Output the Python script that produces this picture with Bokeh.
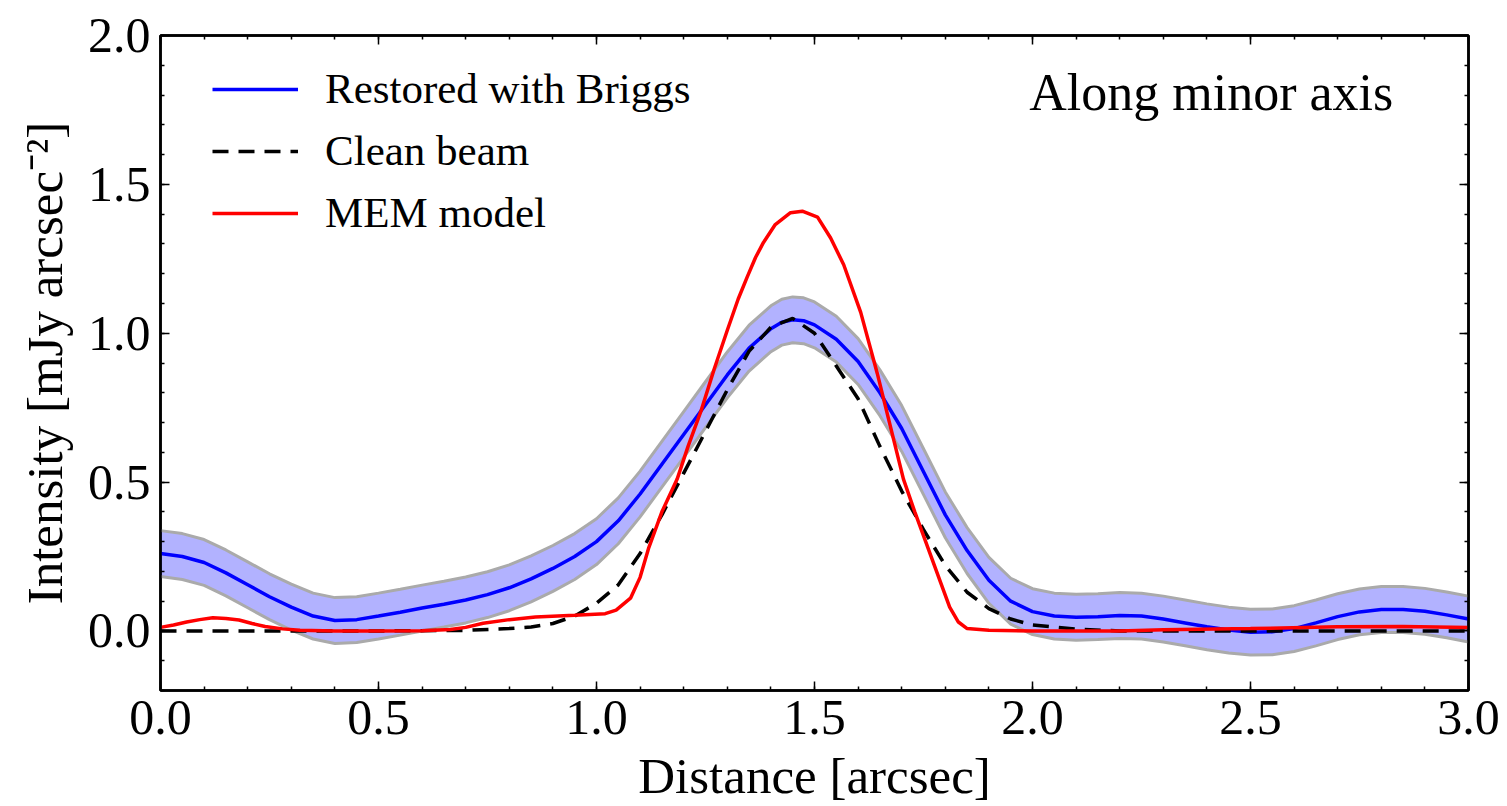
from bokeh.plotting import figure
from bokeh.models import (LinearAxis, FixedTicker, Legend, LegendItem, Label,
                          ColumnDataSource, Range1d)
from bokeh.embed import file_html
from bokeh.resources import INLINE

# ---------------- data ----------------
briggs_x = [0.0, 0.05, 0.1, 0.15, 0.2, 0.25, 0.3, 0.35, 0.4, 0.45, 0.5, 0.55, 0.6, 0.65,
            0.7, 0.75, 0.8, 0.85, 0.9, 0.95, 1.0, 1.05, 1.1, 1.15, 1.2, 1.25, 1.3, 1.35,
            1.4, 1.425, 1.45, 1.475, 1.5, 1.55, 1.6, 1.65, 1.7, 1.75, 1.8, 1.85, 1.9, 1.95,
            2.0, 2.05, 2.1, 2.15, 2.2, 2.25, 2.3, 2.35, 2.4, 2.45, 2.5, 2.55, 2.6, 2.65,
            2.7, 2.75, 2.8, 2.85, 2.9, 2.95, 3.0]
briggs_y = [0.26, 0.25, 0.23, 0.195, 0.155, 0.115, 0.08, 0.05, 0.035, 0.038, 0.05, 0.063,
            0.077, 0.09, 0.104, 0.122, 0.145, 0.175, 0.21, 0.25, 0.30, 0.37, 0.46, 0.56,
            0.66, 0.76, 0.86, 0.95, 1.015, 1.037, 1.045, 1.042, 1.028, 0.98, 0.905, 0.80,
            0.68, 0.535, 0.39, 0.27, 0.17, 0.10, 0.065, 0.05, 0.046, 0.048, 0.052, 0.05,
            0.04, 0.027, 0.014, 0.003, -0.004, -0.003, 0.008, 0.027, 0.048, 0.064, 0.072,
            0.072, 0.066, 0.054, 0.04]
briggs_rms = 0.077

beam_x = [0.0, 0.5, 0.7, 0.8, 0.85, 0.9, 0.95, 1.0, 1.05, 1.1, 1.15, 1.2, 1.25, 1.3, 1.35,
          1.4, 1.45, 1.5, 1.55, 1.6, 1.65, 1.7, 1.75, 1.8, 1.85, 1.9, 1.95, 2.0, 2.1, 2.2, 3.0]
beam_y = [0.0, 0.0, 0.002, 0.008, 0.013, 0.025, 0.05, 0.093, 0.155, 0.26, 0.39, 0.53, 0.67,
          0.81, 0.94, 1.02, 1.05, 1.0, 0.89, 0.78, 0.62, 0.47, 0.34, 0.22, 0.13, 0.075, 0.04,
          0.02, 0.006, 0.0, 0.0]

mem_x = [0.0, 0.03, 0.06, 0.09, 0.12, 0.15, 0.18, 0.21, 0.24, 0.28, 0.32, 0.4, 0.5, 0.6,
         0.665, 0.7, 0.74, 0.8, 0.86, 0.95, 1.02, 1.045, 1.078, 1.1, 1.12, 1.15, 1.185, 1.21,
         1.24, 1.27, 1.3, 1.325, 1.346, 1.365, 1.383, 1.41, 1.445, 1.472, 1.507, 1.537,
         1.567, 1.606, 1.644, 1.682, 1.704, 1.73, 1.76, 1.79, 1.81, 1.83, 1.85, 1.9, 2.0,
         2.2, 2.3, 2.5, 2.7, 2.85, 3.0]
mem_y = [0.012, 0.02, 0.03, 0.038, 0.044, 0.042, 0.037, 0.025, 0.015, 0.007, 0.002, 0.0,
         0.0, 0.001, 0.005, 0.012, 0.026, 0.038, 0.047, 0.053, 0.058, 0.07, 0.11, 0.18, 0.28,
         0.40, 0.51, 0.62, 0.74, 0.88, 1.01, 1.115, 1.19, 1.255, 1.305, 1.365, 1.405, 1.41,
         1.39, 1.32, 1.23, 1.07, 0.865, 0.64, 0.51, 0.40, 0.28, 0.16, 0.08, 0.03, 0.008,
         0.002, 0.0, 0.0, 0.004, 0.008, 0.014, 0.015, 0.012]

x_major = [0.0, 0.5, 1.0, 1.5, 2.0, 2.5, 3.0]
y_major = [0.0, 0.5, 1.0, 1.5, 2.0]
x_minor = [i / 10 for i in range(0, 31)]
y_minor = [i / 10 for i in range(-2, 21)]
x_labels = ["0.0", "0.5", "1.0", "1.5", "2.0", "2.5", "3.0"]
y_labels = ["0.0", "0.5", "1.0", "1.5", "2.0"]

# ---------------- figure ----------------
FONT = "Liberation Serif"
p = figure(width=1507, height=806, x_range=Range1d(0, 3), y_range=Range1d(-0.2, 2.0),
           output_backend="svg", toolbar_location=None,
           min_border_left=160, min_border_right=39, min_border_top=35,
           min_border_bottom=116)
p.grid.visible = False
p.outline_line_color = "black"
p.outline_line_width = 2.5
p.background_fill_color = "white"
p.border_fill_color = "white"

src = ColumnDataSource(dict(x=briggs_x, y=briggs_y,
                            lo=[v - briggs_rms for v in briggs_y],
                            hi=[v + briggs_rms for v in briggs_y]))
p.varea(x="x", y1="lo", y2="hi", source=src, fill_color="blue", fill_alpha=0.3)
p.line(x="x", y="hi", source=src, line_color="#aaaaaa", line_width=3)
p.line(x="x", y="lo", source=src, line_color="#aaaaaa", line_width=3)
r_blue = p.line(x="x", y="y", source=src, line_color="blue", line_width=3.5)
r_beam = p.line(beam_x, beam_y, line_color="black", line_width=3.5, line_dash="16 10")
r_mem = p.line(mem_x, mem_y, line_color="red", line_width=3.5)

xt = FixedTicker(ticks=x_major, minor_ticks=x_minor)
yt = FixedTicker(ticks=y_major, minor_ticks=y_minor)


def style(ax, show):
    ax.axis_line_color = "black"
    ax.axis_line_width = 2.5
    ax.major_tick_in = 9
    ax.major_tick_out = 0
    ax.minor_tick_in = 4
    ax.minor_tick_out = 0
    ax.major_tick_line_width = 1.5
    ax.minor_tick_line_width = 1.5
    ax.major_label_text_font = FONT
    ax.axis_label_text_font = FONT
    ax.axis_label_text_font_style = "normal"
    ax.axis_label_text_color = "black"
    if show:
        ax.major_label_text_color = "black"
        ax.major_label_text_font_size = "50px"
        ax.axis_label_text_font_size = "51px"
        ax.major_label_standoff = 10
    else:
        ax.major_label_text_color = None
        ax.major_label_text_font_size = "1px"
        ax.major_label_standoff = 0


p.xaxis.ticker = xt
p.yaxis.ticker = yt
p.xaxis.major_label_overrides = {v: s for v, s in zip(x_major, x_labels)}
p.yaxis.major_label_overrides = {v: s for v, s in zip(y_major, y_labels)}
p.xaxis.axis_label = "Distance [arcsec]"
p.yaxis.axis_label = "Intensity [mJy arcsec\u207b\u00b2]"
style(p.xaxis[0], True)
style(p.yaxis[0], True)
p.xaxis.axis_label_standoff = 11
p.yaxis.axis_label_standoff = 12

top = LinearAxis(ticker=xt)
right = LinearAxis(ticker=yt)
style(top, False)
style(right, False)
p.add_layout(top, "above")
p.add_layout(right, "right")

legend = Legend(items=[LegendItem(label="Restored with Briggs", renderers=[r_blue]),
                       LegendItem(label="Clean beam", renderers=[r_beam]),
                       LegendItem(label="MEM model", renderers=[r_mem])],
                location=(52, 453), border_line_color=None, background_fill_alpha=0,
                padding=0, margin=0, spacing=13, glyph_width=86, glyph_height=40,
                label_standoff=27, label_text_font=FONT, label_text_font_size="43px",
                label_text_color="black", label_height=40)
p.add_layout(legend)

p.add_layout(Label(x=2.41, y=1.81, text="Along minor axis", text_align="center",
                   text_baseline="alphabetic", text_font=FONT, text_font_size="52px",
                   text_color="black"))

open("out.html", "w").write(file_html(p, INLINE))
